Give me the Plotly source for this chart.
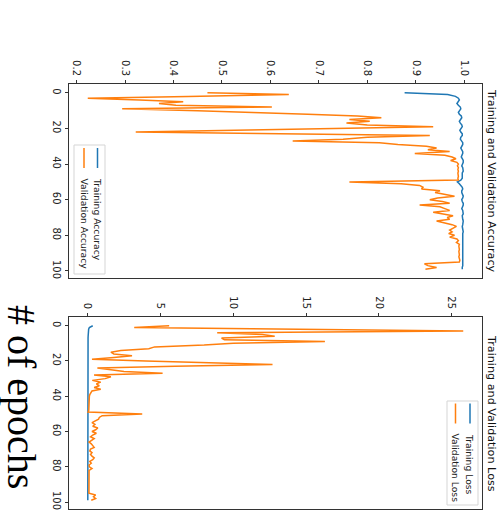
import plotly.graph_objects as go

W, H = 504, 510

epochs = list(range(100))

train_acc = [0.877, 0.966, 0.982, 0.988, 0.990, 0.987, 0.985, 0.988, 0.992, 0.993,
             0.990, 0.988, 0.990, 0.994, 0.995, 0.992, 0.990, 0.992, 0.995, 0.996,
             0.993, 0.991, 0.993, 0.996, 0.996, 0.993, 0.992, 0.994, 0.997, 0.997,
             0.994, 0.993, 0.995, 0.997, 0.997, 0.995, 0.994, 0.996, 0.998, 0.998,
             0.996, 0.995, 0.997, 0.998, 0.998, 0.996, 0.996, 0.997, 0.996, 0.993,
             0.986, 0.990, 0.994, 0.996, 0.997, 0.995, 0.995, 0.997, 0.998, 0.997,
             0.995, 0.996, 0.998, 0.998, 0.996, 0.995, 0.997, 0.998, 0.998, 0.996,
             0.996, 0.997, 0.998, 0.998, 0.997, 0.996, 0.997, 0.998, 0.998, 0.997,
             0.997, 0.998, 0.998, 0.998, 0.997, 0.997, 0.998, 0.998, 0.998, 0.997,
             0.998, 0.998, 0.998, 0.998, 0.997, 0.997, 0.998, 0.997, 0.996, 0.996]

val_acc = [0.470, 0.638, 0.430, 0.223, 0.330, 0.420, 0.370, 0.405, 0.603, 0.294,
           0.450, 0.580, 0.677, 0.780, 0.829, 0.763, 0.805, 0.757, 0.800, 0.936,
           0.750, 0.530, 0.322, 0.620, 0.929, 0.800, 0.750, 0.646, 0.825, 0.863,
           0.922, 0.943, 0.925, 0.970, 0.898, 0.960, 0.975, 0.983, 0.972, 0.985,
           0.988, 0.986, 0.988, 0.987, 0.988, 0.987, 0.988, 0.988, 0.987, 0.988,
           0.763, 0.870, 0.908, 0.915, 0.912, 0.950, 0.940, 0.960, 0.980, 0.945,
           0.929, 0.955, 0.970, 0.908, 0.950, 0.960, 0.970, 0.936, 0.955, 0.977,
           0.965, 0.970, 0.943, 0.960, 0.975, 0.984, 0.978, 0.970, 0.975, 0.968,
           0.980, 0.970, 0.985, 0.988, 0.984, 0.990, 0.989, 0.990, 0.990, 0.989,
           0.990, 0.990, 0.989, 0.990, 0.991, 0.990, 0.918, 0.925, 0.943, 0.920]

train_loss = [0.35, 0.12, 0.07, 0.05, 0.045, 0.04, 0.035, 0.03, 0.03, 0.025,
              0.025, 0.02, 0.02, 0.02, 0.02, 0.018, 0.018, 0.017, 0.017, 0.016,
              0.016, 0.015, 0.015, 0.015, 0.014, 0.014, 0.014, 0.013, 0.013, 0.013,
              0.012, 0.012, 0.012, 0.012, 0.011, 0.011, 0.011, 0.011, 0.010, 0.010,
              0.010, 0.010, 0.010, 0.010, 0.010, 0.010, 0.010, 0.010, 0.012, 0.015,
              0.05, 0.03, 0.02, 0.015, 0.014, 0.013, 0.012, 0.012, 0.011, 0.011,
              0.011, 0.011, 0.012, 0.011, 0.011, 0.010, 0.010, 0.010, 0.010, 0.010,
              0.010, 0.010, 0.010, 0.010, 0.010, 0.010, 0.010, 0.010, 0.010, 0.010,
              0.010, 0.010, 0.010, 0.010, 0.010, 0.010, 0.010, 0.010, 0.010, 0.010,
              0.010, 0.010, 0.010, 0.010, 0.010, 0.010, 0.011, 0.011, 0.012, 0.012]

val_loss = [5.6, 3.2, 14.5, 25.8, 8.9, 12.0, 12.85, 9.2, 9.4, 16.3,
            10.0, 8.0, 4.6, 4.2, 2.28, 1.6, 1.8, 3.05, 1.8, 0.3,
            4.0, 8.5, 12.7, 6.0, 0.67, 1.6, 2.5, 5.15, 0.44, 1.6,
            1.2, 0.32, 0.9, 0.6, 0.8, 0.45, 0.9, 0.3, 0.2, 0.15,
            0.12, 0.12, 0.1, 0.1, 0.1, 0.09, 0.1, 0.09, 0.08, 0.03,
            3.75, 1.0, 0.8, 0.75, 0.5, 0.3, 0.5, 0.35, 0.7, 0.55,
            0.3, 0.6, 0.35, 0.2, 0.45, 0.3, 0.1, 0.25, 0.35, 0.45,
            0.2, 0.15, 0.3, 0.2, 0.3, 0.45, 0.35, 0.15, 0.25, 0.1,
            0.12, 0.3, 0.1, 0.1, 0.12, 0.1, 0.08, 0.1, 0.09, 0.08,
            0.08, 0.09, 0.08, 0.08, 0.08, 0.09, 0.55, 0.4, 0.55, 0.25]

acc_ticks = [0.2, 0.3, 0.4, 0.5, 0.6, 0.7, 0.8, 0.9, 1.0]
acc_tick_labels = ["0.2", "0.3", "0.4", "0.5", "0.6", "0.7", "0.8", "0.9", "1.0"]
loss_ticks = [0, 5, 10, 15, 20, 25]
epoch_ticks = [0, 20, 40, 60, 80, 100]

BLUE = "#1f77b4"
ORANGE = "#ff7f0e"
SPINE = "#333333"
FONT = "DejaVu Sans"


def padded(*series):
    lo = min(min(s) for s in series)
    hi = max(max(s) for s in series)
    d = hi - lo
    return [lo - 0.05 * d, hi + 0.05 * d]


def X(x):
    return x / W


def Y(y):
    return 1 - y / H


ep_lo, ep_hi = padded(epochs)
ep_range = [ep_hi, ep_lo]

fig = go.Figure()
fig.add_trace(go.Scatter(x=train_acc, y=epochs, mode="lines", line=dict(color=BLUE, width=1.5),
                         xaxis="x", yaxis="y", showlegend=False))
fig.add_trace(go.Scatter(x=val_acc, y=epochs, mode="lines", line=dict(color=ORANGE, width=1.5),
                         xaxis="x", yaxis="y", showlegend=False))
fig.add_trace(go.Scatter(x=train_loss, y=epochs, mode="lines", line=dict(color=BLUE, width=1.5),
                         xaxis="x2", yaxis="y2", showlegend=False))
fig.add_trace(go.Scatter(x=val_loss, y=epochs, mode="lines", line=dict(color=ORANGE, width=1.5),
                         xaxis="x2", yaxis="y2", showlegend=False))

common = dict(showline=True, mirror=True, linecolor=SPINE, linewidth=1, showgrid=False,
              zeroline=False, ticks="outside", ticklen=3.5, tickwidth=0.8, tickcolor=SPINE,
              tickangle=90, tickfont=dict(family=FONT, size=10, color="#222222"),
              automargin=False, ticklabeloverflow="allow")

fig.update_layout(
    width=W, height=H,
    margin=dict(l=0, r=0, t=0, b=0),
    paper_bgcolor="white", plot_bgcolor="white",
    xaxis=dict(domain=[X(69), X(482)], anchor="y", side="top", range=padded(train_acc, val_acc),
               tickvals=acc_ticks, ticktext=acc_tick_labels, **common),
    yaxis=dict(domain=[Y(278), Y(84)], anchor="x", range=ep_range, tickvals=epoch_ticks, **common),
    xaxis2=dict(domain=[X(69), X(482)], anchor="y2", side="top", range=padded(train_loss, val_loss),
                tickvals=loss_ticks, **common),
    yaxis2=dict(domain=[Y(509), Y(317)], anchor="x2", range=ep_range, tickvals=epoch_ticks, **common),
)

annotations = []
shapes = []

# titles
annotations.append(dict(text="Training and Validation Accuracy", x=X(492), y=Y(181), xref="paper", yref="paper",
                        showarrow=False, textangle=90, xanchor="center", yanchor="middle",
                        font=dict(family=FONT, size=11.2, color="#111111")))
annotations.append(dict(text="Training and Validation Loss", x=X(492), y=Y(413), xref="paper", yref="paper",
                        showarrow=False, textangle=90, xanchor="center", yanchor="middle",
                        font=dict(family=FONT, size=11.2, color="#111111")))
# big axis caption
annotations.append(dict(text="# of epochs", x=X(22), y=Y(397), xref="paper", yref="paper",
                        showarrow=False, textangle=90, xanchor="center", yanchor="middle",
                        font=dict(family="Liberation Serif", size=40, color="#000000")))


def legend(box, items):
    x0, y0, x1, y1 = box
    shapes.append(dict(type="rect", xref="paper", yref="paper", x0=X(x0), x1=X(x1), y0=Y(y0), y1=Y(y1),
                       line=dict(color="#d5d5d5", width=1), fillcolor="rgba(255,255,255,0.8)"))
    for (lx, hy0, hy1, ty, color, label) in items:
        shapes.append(dict(type="line", xref="paper", yref="paper", x0=X(lx), x1=X(lx), y0=Y(hy0), y1=Y(hy1),
                           line=dict(color=color, width=1.5)))
        annotations.append(dict(text=label, x=X(lx), y=Y(ty), xref="paper", yref="paper", showarrow=False,
                                textangle=90, xanchor="center", yanchor="top",
                                font=dict(family=FONT, size=9.2, color="#222222")))


legend((74, 145, 105, 274), [
    (97.5, 148, 168, 176, BLUE, "Training Accuracy"),
    (84, 148, 168, 176, ORANGE, "Validation Accuracy"),
])
legend((447, 401, 478, 505), [
    (470, 403.5, 423.5, 431.5, BLUE, "Training Loss"),
    (455.5, 403.5, 423.5, 431.5, ORANGE, "Validation Loss"),
])

fig.update_layout(annotations=annotations, shapes=shapes)
fig.write_html("out.html")
